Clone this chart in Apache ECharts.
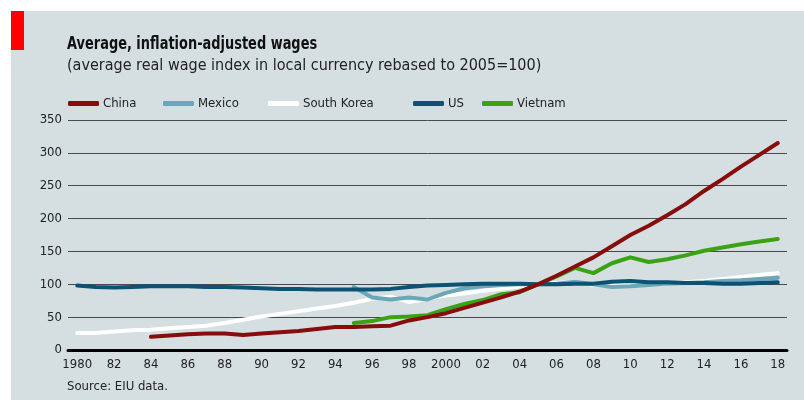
<!DOCTYPE html>
<html><head><meta charset="utf-8">
<script src="https://cdn.jsdelivr.net/npm/echarts@6/dist/echarts.min.js"></script>
<style>html,body{margin:0;padding:0;background:#fff}#c{width:804px;height:400px}</style>
</head><body><div id="c"></div>
<script>
const years = [];
for (let y = 1980; y <= 2018; y++) years.push(String(y));
const yTicks = [0, 50, 100, 150, 200, 250, 300, 350];
const china = [null,null,null,null,20,22,24,25,25,23,25,27,29,32,35,35,36,37,45,50,56,64,72,80,89,100,113,127,141,158,175,189,205,222,242,260,279,297,315];
const mexico = [null,null,null,null,null,null,null,null,null,null,null,null,null,null,null,96,80,77,80,77,87,94,97,99,100,100,101,104,100,96,97,99,101,102,103,105,106,108,110];
const korea = [26,26,28,30,31,33,35,37,41,46,51,55,59,63,67,72,78,81,73,78,83,86,90,93,97,100,102,104,99,98,101,100,101,103,105,108,111,114,117];
const us = [98,96,95,96,97,97,97,96,96,95,94,93,93,92,92,92,92,93,96,98,99,100,101,101,101,100,100,101,101,104,105,103,103,102,102,101,101,102,103];
const vietnam = [null,null,null,null,null,null,null,null,null,null,null,null,null,null,null,41,44,50,51,53,62,70,76,85,88,100,112,125,117,132,141,134,138,144,151,156,161,165,169];

const FONT = '"DejaVu Sans Condensed", "DejaVu Sans", sans-serif';
const names = ['China','Mexico','South Korea','US','Vietnam'];
const colors = ['#870d0d','#6aa7b8','#ffffff','#0c5273','#3aa313'];
const datas = [china, mexico, korea, us, vietnam];
const legendLeft = [68, 163, 268, 413, 482];
const order = [2, 1, 4, 3, 0];

const chart = echarts.init(document.getElementById('c'));
chart.setOption({
  animation: false,
  backgroundColor: '#ffffff',
  graphic: [
    {type:'rect', shape:{x:11,y:11,width:793,height:389}, style:{fill:'#d5dfe1'}, z:-10},
    {type:'rect', shape:{x:11,y:11,width:13,height:39}, style:{fill:'#ff0000'}, z:-9},
    {type:'text', x:67, y:35, scaleX:0.8, style:{text:'Average, inflation-adjusted wages', font:'bold 18px ' + FONT, fill:'#111'}},
    {type:'text', x:67, y:58, style:{text:'(average real wage index in local currency rebased to 2005=100)', font:'16px ' + FONT, fill:'#222'}},
    {type:'text', left:67, top:380, style:{text:'Source: EIU data.', font:'13px ' + FONT, fill:'#222'}}
  ],
  legend: names.map((n, i) => ({
    data: [n], left: legendLeft[i], top: 97, padding: 0, icon: 'roundRect', itemWidth: 31, itemHeight: 5,
    itemGap: 4, selectedMode: false,
    textStyle: {fontFamily: FONT, fontSize: 13, color: '#222', padding:[0,0,0,-1]}
  })),
  grid: {left: 68, right: 17, top: 120, bottom: 50},
  xAxis: {
    type: 'category', data: years, boundaryGap: true,
    axisLine: {lineStyle: {color: '#000', width: 3}},
    axisTick: {show: false},
    axisLabel: {interval: 1, fontFamily: FONT, fontSize: 13, color: '#222', margin: 8,
      formatter: v => (v === '1980' || v === '2000') ? v : v.slice(2)}
  },
  yAxis: {
    type: 'value', min: 0, max: 350, interval: 50,
    axisLine: {show: false}, axisTick: {show: false},
    axisLabel: {fontFamily: FONT, fontSize: 13, color: '#222', margin: 6},
    splitLine: {lineStyle: {color: '#4a4a4a', width: 1}}
  },
  series: order.map(i => ({
    name: names[i], type: 'line', data: datas[i], showSymbol: false, symbol: 'none',
    connectNulls: false,
    lineStyle: {color: colors[i], width: 4, cap: 'round', join: 'round'},
    itemStyle: {color: colors[i]}, z: 3
  }))
});
</script></body></html>
